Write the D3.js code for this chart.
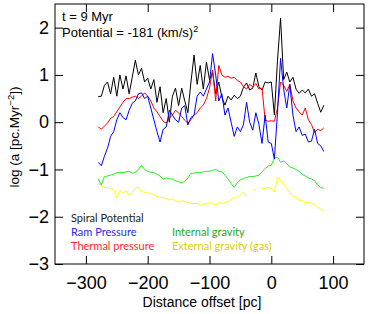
<!DOCTYPE html>
<html>
<head>
<meta charset="utf-8">
<script src="https://cdn.jsdelivr.net/npm/d3@7"></script>
<style>
  body { margin: 0; background: #fff; }
  svg { display: block; }
  .tick text { font-family: "Liberation Sans", Arial, sans-serif; }
</style>
</head>
<body>
<svg id="chart" width="374" height="314"></svg>
<script>
// distance offset [pc], 5 pc steps
const offsets = d3.range(-280, 86, 5);

// log acceleration per term
const spiralPotential = [0.54, 0.55, 0.78, 0.85, 0.6, 0.95, 0.55, 1.0, 0.7, 0.98, 0.6, 0.95, 1.31, 1.0, 1.14,
  0.85, 0.93, 0.7, 0.9, 0.42, 0.75, 0.2, 0.5, 0.0, 0.55, 0.72, 0.35, 0.72, 0.45, 0.2, 0.85, 1.42, 0.8, 1.2,
  0.7, 1.27, 0.9, 1.06, 0.6, 0.85, 0.53, 0.36, 0.55, 0.47, 0.57, 0.5, 0.55, 0.74, 0.83, 0.68, 0.72, 1.04,
  0.75, 0.68, 0.85, 0.83, 0.85, 0.15, 1.3, 2.2, 0.9, 1.06, 0.85, 0.95, 0.7, 0.61, 0.68, 0.62, 0.7, 0.55,
  0.6, 0.4, 0.21, 0.36];
const ramPressure = [-0.85, -0.92, -0.72, -0.55, -0.3, -0.2, 0.05, 0.2, 0.1, 0.05, 0.25, 0.4, 0.45, 0.6,
  0.62, 0.5, 0.55, 0.3, 0.05, -0.2, -0.42, -0.15, -0.1, 0.25, 0.15, 0.05, 0.0, 0.3, 0.35, -0.06, 0.1, 0.15,
  0.55, 0.64, 0.55, 0.7, 0.85, 1.45, 1.0, 0.45, 0.6, 0.15, 0.3, 0.0, -0.3, -0.1, -0.2, -0.05, 0.42, 0.0,
  -0.17, 0.2, -0.05, -0.45, 0.15, -0.42, -0.45, -0.78, 0.2, 1.35, 0.7, 0.3, 0.8, 0.15, -0.2, -0.1, -0.28,
  -0.25, -0.42, -0.4, -0.15, -0.45, -0.5, -0.62];
const thermalPressure = [-0.1, -0.15, -0.08, -0.02, 0.08, 0.12, 0.22, 0.32, 0.42, 0.5, 0.5, 0.53, 0.55,
  0.5, 0.55, 0.62, 0.55, 0.45, 0.3, 0.22, 0.12, 0.02, -0.02, 0.08, 0.15, 0.25, 0.2, 0.12, 0.04, -0.02, 0.05,
  0.15, 0.2, 0.3, 0.36, 0.5, 0.72, 1.1, 0.45, 1.2, 1.0, 0.95, 0.97, 0.93, 0.95, 0.88, 0.85, 0.75, 0.7, 0.8,
  0.75, 0.82, 0.7, 0.72, 0.05, 0.02, 0.03, 0.02, 0.3, 0.85, 0.78, 0.65, 0.8, 0.45, 0.3, 0.22, 0.15, 0.3,
  0.05, -0.05, -0.22, -0.15, -0.18, -0.12];
const internalGravity = [-1.2, -1.33, -1.15, -1.14, -1.12, -1.1, -1.07, -1.06, -1.07, -1.05, -1.04, -1.08,
  -1.06, -1.0, -0.91, -1.0, -1.04, -1.06, -1.07, -1.1, -1.14, -1.2, -1.18, -1.2, -1.2, -1.24, -1.26, -1.29,
  -1.25, -1.18, -1.08, -1.08, -1.06, -1.07, -1.05, -1.04, -1.04, -1.02, -1.0, -1.04, -1.05, -1.12, -1.2,
  -1.3, -1.38, -1.28, -1.22, -1.19, -1.17, -1.15, -1.15, -1.14, -1.12, -1.05, -0.98, -0.93, -0.91, -0.76,
  -0.74, -0.85, -0.82, -0.88, -0.95, -0.97, -1.0, -1.04, -1.1, -1.14, -1.18, -1.2, -1.24, -1.33, -1.38, -1.4];
const externalGravityGas = [-1.29, -1.35, -1.38, -1.38, -1.4, -1.42, -1.6, -1.44, -1.5, -1.45, -1.55, -1.48,
  -1.4, -1.38, -1.47, -1.48, -1.5, -1.5, -1.53, -1.58, -1.59, -1.6, -1.62, -1.65, -1.62, -1.66, -1.69,
  -1.66, -1.68, -1.7, -1.72, -1.72, -1.72, -1.76, -1.74, -1.72, -1.7, -1.72, -1.76, -1.7, -1.72, -1.7,
  -1.68, -1.64, -1.6, -1.58, -1.54, -1.48, -1.56, null, -1.44, -1.42, null, -1.4, -1.4, -1.38, -1.4, -1.48,
  -1.17, -1.23, -1.3, -1.4, -1.5, -1.55, -1.6, -1.65, -1.66, -1.7, -1.7, -1.72, -1.75, -1.8, -1.84, -1.88];

const seriesNames = ["Spiral Potential", "Ram Pressure", "Thermal pressure", "Internal gravity", "External gravity (gas)"];
const xTicks = [-300, -200, -100, 0, 100];
const yTicks = [-3, -2, -1, 0, 1, 2];

const series = [
  { name: seriesNames[4], values: externalGravityGas, color: "#ffff00", text: "#d9cf00" },
  { name: seriesNames[3], values: internalGravity, color: "#22ee22", text: "#22aa22" },
  { name: seriesNames[0], values: spiralPotential, color: "#000000", text: "#222222" },
  { name: seriesNames[2], values: thermalPressure, color: "#ff0000", text: "#ff2a2a" },
  { name: seriesNames[1], values: ramPressure, color: "#0000ff", text: "#2a2aff" }
];

const svg = d3.select("#chart");
const plot = { left: 55, right: 364, top: 4, bottom: 264 };

const x = d3.scaleLinear().domain([-350, 150]).range([plot.left, plot.right]);
const y = d3.scaleLinear().domain([-3, 2.5]).range([plot.bottom, plot.top]);

// frame
svg.append("rect")
  .attr("x", plot.left).attr("y", plot.top)
  .attr("width", plot.right - plot.left).attr("height", plot.bottom - plot.top)
  .attr("fill", "none").attr("stroke", "#000").attr("stroke-width", 1);

const minusFmt = d => d < 0 ? "\u2212" + Math.abs(d) : d;

// inward ticks (major + minor) on one side
function drawTicks(axisFn, scale, transform, major, minor) {
  const g = svg.append("g").attr("transform", transform);
  g.call(axisFn(scale).tickValues(minor).tickSize(4).tickFormat(""));
  g.call(axisFn(scale).tickValues(major).tickSize(8).tickFormat(""));
  g.selectAll(".domain").remove();
  g.selectAll(".tick line").attr("stroke", "#000");
  return g;
}

function drawLabels(axisFn, scale, transform, major, pad) {
  const g = svg.append("g").attr("transform", transform)
    .call(axisFn(scale).tickValues(major).tickSize(0).tickPadding(pad).tickFormat(minusFmt));
  g.select(".domain").remove();
  g.selectAll(".tick text").attr("font-size", 18).attr("fill", "#000");
  return g;
}

const xMinor = d3.range(-350, 151, 10);
const yMinor = d3.range(-30, 26, 1).map(d => d / 10);

drawTicks(d3.axisTop, x, `translate(0,${plot.bottom})`, xTicks, xMinor);
drawTicks(d3.axisBottom, x, `translate(0,${plot.top})`, xTicks, xMinor);
drawTicks(d3.axisRight, y, `translate(${plot.left},0)`, yTicks, yMinor);
drawTicks(d3.axisLeft, y, `translate(${plot.right},0)`, yTicks, yMinor);
drawLabels(d3.axisBottom, x, `translate(0,${plot.bottom})`, xTicks, 12);
drawLabels(d3.axisLeft, y, `translate(${plot.left},0)`, yTicks, 6);

// lines
const line = d3.line()
  .defined(d => d[1] !== null)
  .x(d => x(d[0]))
  .y(d => y(d[1]));

svg.append("g").selectAll("path")
  .data(series)
  .join("path")
  .attr("d", s => line(offsets.map((o, i) => [o, s.values[i]])))
  .attr("fill", "none")
  .attr("stroke", s => s.color)
  .attr("stroke-width", 1)
  .attr("stroke-linejoin", "round");

// annotation
const font = "'Liberation Sans', Arial, sans-serif";
svg.append("text").attr("x", 62).attr("y", 21)
  .attr("font-family", font).attr("font-size", 13).text("t = 9 Myr");
const pot = svg.append("text").attr("x", 62).attr("y", 37)
  .attr("font-family", font).attr("font-size", 13);
pot.append("tspan").text("Potential = -181 (km/s)");
pot.append("tspan").attr("dy", -5).attr("font-size", 9).text("2");

// legend
const legendFont = "Lato, 'Open Sans', sans-serif";
const legendItems = [
  { s: series[2], x: 71, y: 222 },
  { s: series[4], x: 71, y: 236 },
  { s: series[3], x: 71, y: 250 },
  { s: series[1], x: 172, y: 236 },
  { s: series[0], x: 172, y: 250 }
];
svg.append("g").selectAll("text")
  .data(legendItems)
  .join("text")
  .attr("x", d => d.x).attr("y", d => d.y)
  .attr("font-family", legendFont).attr("font-size", 11)
  .attr("fill", d => d.s.text)
  .text(d => d.s.name);

// axis titles
svg.append("text")
  .attr("x", 202).attr("y", 307)
  .attr("text-anchor", "middle")
  .attr("font-family", font).attr("font-size", 14)
  .text("Distance offset [pc]");

const yt = svg.append("text")
  .attr("transform", "translate(19,137) rotate(-90)")
  .attr("text-anchor", "middle")
  .attr("font-family", font).attr("font-size", 13.5);
yt.append("tspan").text("log (a [pc.Myr");
yt.append("tspan").attr("dy", -5).attr("font-size", 9.5).text("\u22122");
yt.append("tspan").attr("dy", 5).text("])");
</script>
</body>
</html>
